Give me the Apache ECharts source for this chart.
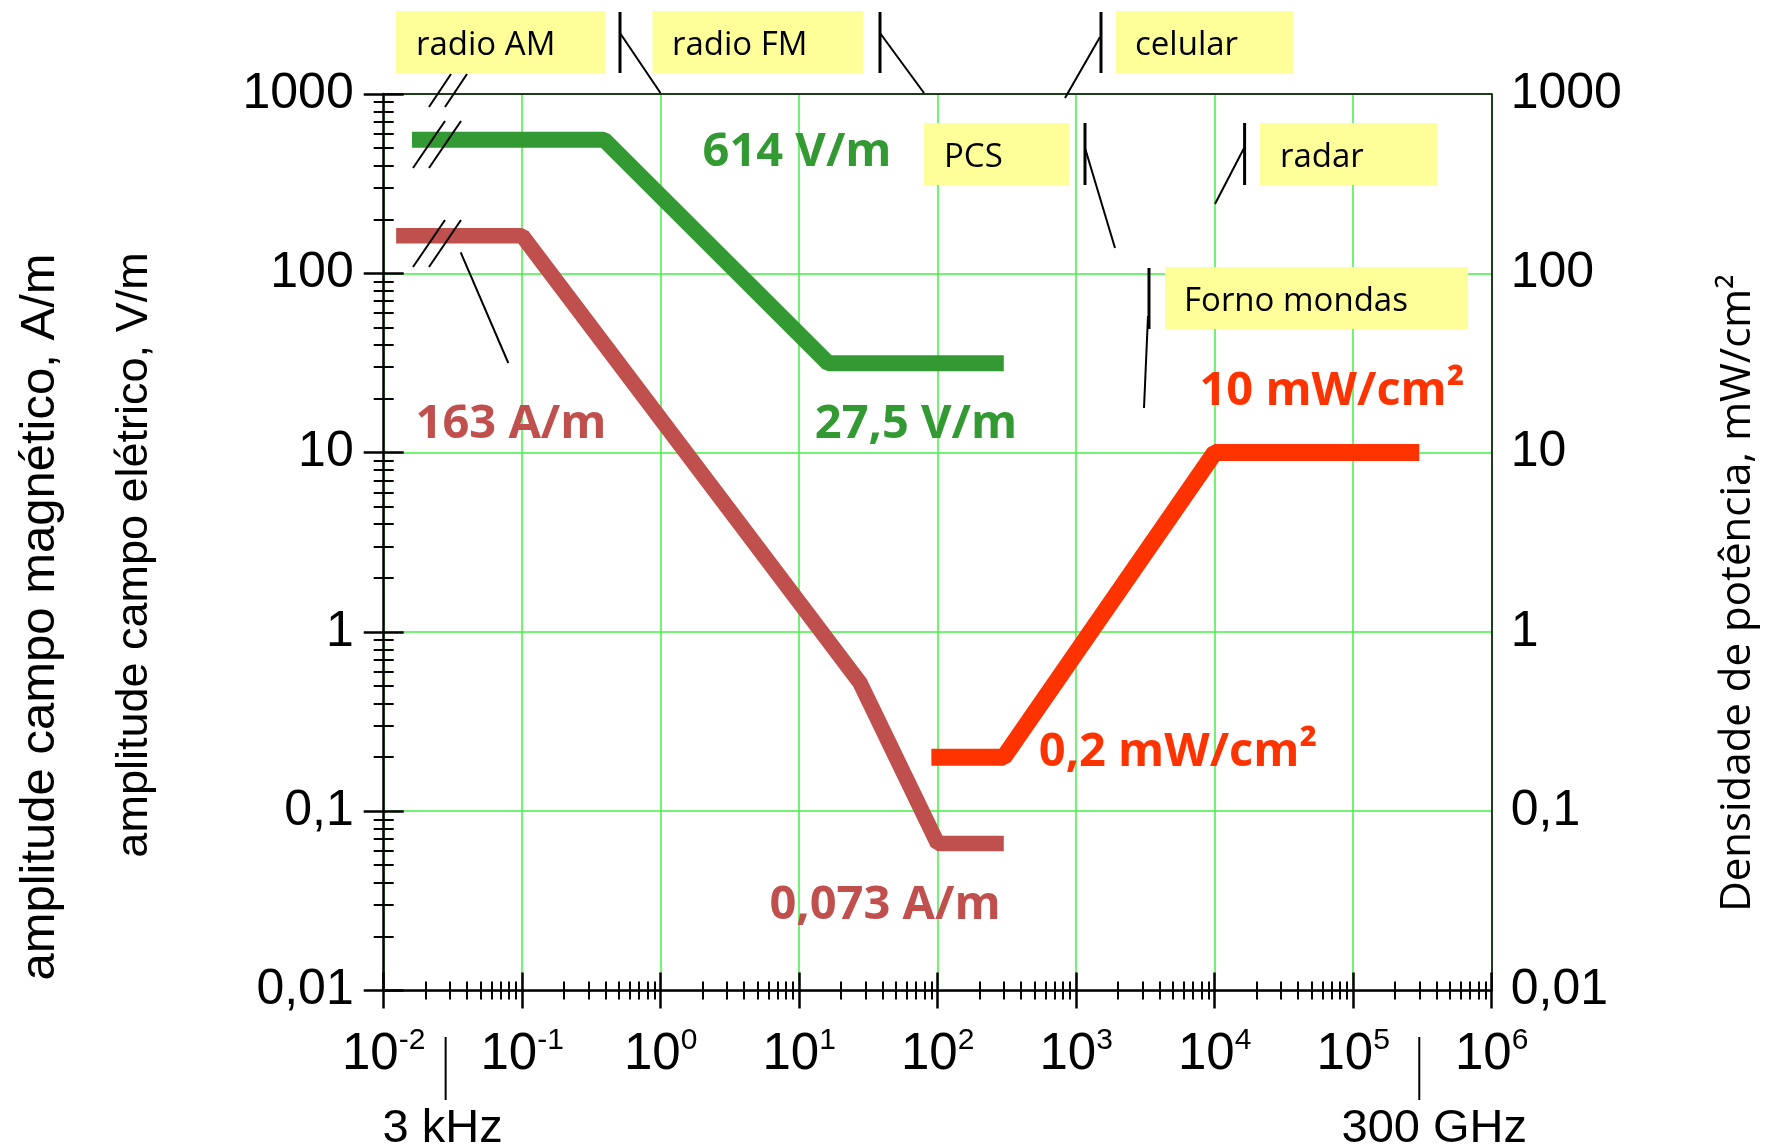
<!DOCTYPE html>
<html><head><meta charset="utf-8">
<script src="https://cdn.jsdelivr.net/npm/echarts@6/dist/echarts.min.js"></script>
<style>html,body{margin:0;padding:0;background:#fff}#c{width:1767px;height:1148px}</style>
</head><body><div id="c"></div>
<script>
// ---- data (frequency in MHz) ----
const eFieldPoints = [[0.016, 556], [0.39, 556], [16.2, 31.5], [300, 31.5]];          // V/m
const hFieldPoints = [[0.0123, 162], [0.1, 162], [27.5, 0.52], [100, 0.066], [300, 0.066]]; // A/m
const powerPoints  = [[90, 0.2], [300, 0.2], [10000, 10], [300000, 10]];             // mW/cm2
const yTickLabels = {'0.01': '0,01', '0.1': '0,1', '1': '1', '10': '10', '100': '100', '1000': '1000'};
const xTickExponents = ['-2', '-1', '0', '1', '2', '3', '4', '5', '6'];
const valueLabelTexts = ['614 V/m', '27,5 V/m', '163 A/m', '0,073 A/m', '10 mW/cm²', '0,2 mW/cm²'];
const bandNames = ['radio AM', 'radio FM', 'celular', 'PCS', 'radar', 'Forno mondas'];
const freqMarkers = [['3 kHz', 0.028], ['300 GHz', 300000]];
const axisNames = ['amplitude campo magnético, A/m', 'amplitude campo elétrico, V/m', 'Densidade de potência, mW/cm²'];

// ---- layout / styles ----
const GREEN = '#339933', RED = '#c0504d', ORANGE = '#ff3300', GRID = '#44ee44', YELLOW = '#ffff99';
const chart = echarts.init(document.getElementById('c'), null, {renderer: 'canvas'});

function xLabel(v) {
  const e = Math.round(Math.log10(v));
  const s = xTickExponents.find(t => +t === e);
  return '{b|10}{s|' + s + '}';
}
function yLabel(v) {
  for (const k in yTickLabels) if (Math.abs(Math.log10(v) - Math.log10(+k)) < 1e-6) return yTickLabels[k];
  return '';
}
const tickCommon = {lineStyle: {color: '#000', width: 2.5}};
const baseX = {type: 'log', logBase: 10, min: 0.01, max: 1e6, splitNumber: 8};
const baseY = {type: 'log', logBase: 10, min: 0.01, max: 1000, splitNumber: 5};

const option = {
  animation: false,
  backgroundColor: '#fff',
  grid: {left: 383.7, right: 275.3, top: 94, bottom: 157.5},
  xAxis: [
    Object.assign({}, baseX, {
      position: 'bottom',
      axisLine: {lineStyle: {color: '#000', width: 2.5}},
      axisTick: Object.assign({inside: false, length: 18}, tickCommon),
      minorTick: {show: true, splitNumber: 9, length: 9, lineStyle: {color: '#000', width: 2}},
      splitLine: {show: true, lineStyle: {color: GRID, width: 1.5}},
      minorSplitLine: {show: false},
      axisLabel: {
        margin: 35, formatter: xLabel,
        rich: {
          b: {fontFamily: 'Liberation Sans', fontSize: 51, lineHeight: 58, color: '#000'},
          s: {fontFamily: 'Liberation Sans', fontSize: 30, lineHeight: 34, verticalAlign: 'top', color: '#000'}
        }
      }
    }),
    Object.assign({}, baseX, {
      position: 'bottom',
      axisLine: {show: false},
      axisTick: Object.assign({inside: true, length: 18}, tickCommon),
      minorTick: {show: true, splitNumber: 9, length: 9, lineStyle: {color: '#000', width: 2}},
      splitLine: {show: false}, axisLabel: {show: false}
    }),
    Object.assign({}, baseX, {
      position: 'top',
      axisLine: {lineStyle: {color: '#000', width: 1.5}},
      axisTick: {show: false}, splitLine: {show: false}, axisLabel: {show: false}
    })
  ],
  yAxis: [
    Object.assign({}, baseY, {
      position: 'left',
      axisLine: {lineStyle: {color: '#000', width: 2.5}},
      axisTick: Object.assign({inside: false, length: 20}, tickCommon),
      minorTick: {show: true, splitNumber: 9, length: 10, lineStyle: {color: '#000', width: 2}},
      splitLine: {show: true, lineStyle: {color: GRID, width: 1.5}},
      axisLabel: {margin: 30, formatter: yLabel, fontFamily: 'Liberation Sans', fontSize: 50, color: '#000'}
    }),
    Object.assign({}, baseY, {
      position: 'left',
      axisLine: {show: false},
      axisTick: Object.assign({inside: true, length: 20}, tickCommon),
      minorTick: {show: true, splitNumber: 9, length: 10, lineStyle: {color: '#000', width: 2}},
      splitLine: {show: false}, axisLabel: {show: false}
    }),
    Object.assign({}, baseY, {
      position: 'right',
      axisLine: {lineStyle: {color: '#000', width: 1.5}},
      axisTick: {show: false}, splitLine: {show: false},
      axisLabel: {margin: 19, formatter: yLabel, fontFamily: 'Liberation Sans', fontSize: 50, color: '#000'}
    })
  ],
  series: [
    {type: 'line', name: 'E', xAxisIndex: 0, yAxisIndex: 0, data: eFieldPoints, showSymbol: false, z: 3,
     lineStyle: {color: GREEN, width: 16, cap: 'butt', join: 'bevel'}},
    {type: 'line', name: 'H', xAxisIndex: 0, yAxisIndex: 0, data: hFieldPoints, showSymbol: false, z: 3,
     lineStyle: {color: RED, width: 15.5, cap: 'butt', join: 'bevel'}},
    {type: 'line', name: 'S', xAxisIndex: 0, yAxisIndex: 2, data: powerPoints, showSymbol: false, z: 3,
     lineStyle: {color: ORANGE, width: 17, cap: 'butt', join: 'bevel'}}
  ]
};
chart.setOption(option);

// ---- annotations ----
const g = [];
const labelFont = {fontFamily: 'Open Sans', fontWeight: 'bold', fontSize: 47};
const valueLabelPos = [[797, 153, GREEN], [916, 425, GREEN], [511, 425, RED], [885, 906, RED], [1332, 392, ORANGE], [1178, 753, ORANGE]];
valueLabelTexts.forEach((t, i) => {
  const p = valueLabelPos[i];
  g.push({type: 'text', x: p[0], y: p[1], z: 50,
    style: Object.assign({text: t, fill: p[2], align: 'center', verticalAlign: 'middle'}, labelFont)});
});
const boxes = [[396, 11, 209, 62, 416], [652.5, 11, 211, 62, 672], [1116, 11, 177, 62, 1135],
               [924, 123, 145, 62, 944], [1260, 123, 177, 62, 1280], [1165, 267, 303, 62, 1184]];
bandNames.forEach((n, i) => {
  const b = boxes[i];
  g.push({type: 'rect', z: 40, shape: {x: b[0], y: b[1], width: b[2], height: b[3]}, style: {fill: YELLOW}});
  g.push({type: 'text', z: 41, x: b[4], y: b[1] + b[3] / 2 + 4,
    style: {text: n, fill: '#000', fontFamily: 'Open Sans', fontSize: 33, align: 'left', verticalAlign: 'middle'}});
});
const thick = [[620, 12, 620, 73], [880, 12, 880, 73], [1101, 12, 1101, 73], [1085, 123, 1085, 185], [1244.6, 123, 1244.6, 185], [1149, 268, 1149, 329]];
const thin = [[620, 33, 660.5, 93], [880, 33, 924, 93], [1100, 37, 1065, 98], [1085, 148, 1115, 248], [1244.6, 147, 1215, 204], [1148, 316, 1144, 408],
              [460.7, 252.3, 508.3, 363],
              [429, 107, 451, 74], [445, 107, 467, 74],
              [413, 168, 445, 121], [429, 168, 461, 121],
              [413, 267, 445, 220], [429, 267, 461, 220]];
thick.forEach(l => g.push({type: 'line', z: 45, shape: {x1: l[0], y1: l[1], x2: l[2], y2: l[3]}, style: {stroke: '#000', lineWidth: 3}}));
thin.forEach(l => g.push({type: 'line', z: 45, shape: {x1: l[0], y1: l[1], x2: l[2], y2: l[3]}, style: {stroke: '#000', lineWidth: 2}}));
freqMarkers.forEach((m, i) => {
  const px = chart.convertToPixel({xAxisIndex: 0}, m[1]);
  g.push({type: 'line', z: 45, shape: {x1: px, y1: 1037, x2: px, y2: 1100}, style: {stroke: '#000', lineWidth: 2}});
  g.push({type: 'text', z: 45, x: px + (i === 0 ? -3 : 15), y: 1129,
    style: {text: m[0], fill: '#000', fontFamily: 'Liberation Sans', fontSize: 47, align: 'center', verticalAlign: 'middle'}});
});
const namePos = [[40, 617, 49], [135, 555, 45], [1738, 593, 42]];
const nameFonts = ['Liberation Sans', 'Liberation Sans', 'Open Sans'];
axisNames.forEach((n, i) => {
  const p = namePos[i];
  g.push({type: 'text', z: 45, x: p[0], y: p[1], rotation: Math.PI / 2,
    style: {text: n, fill: '#000', fontFamily: nameFonts[i], fontSize: p[2], align: 'center', verticalAlign: 'middle'}});
});
chart.setOption({graphic: {elements: g}});
</script>
</body></html>
